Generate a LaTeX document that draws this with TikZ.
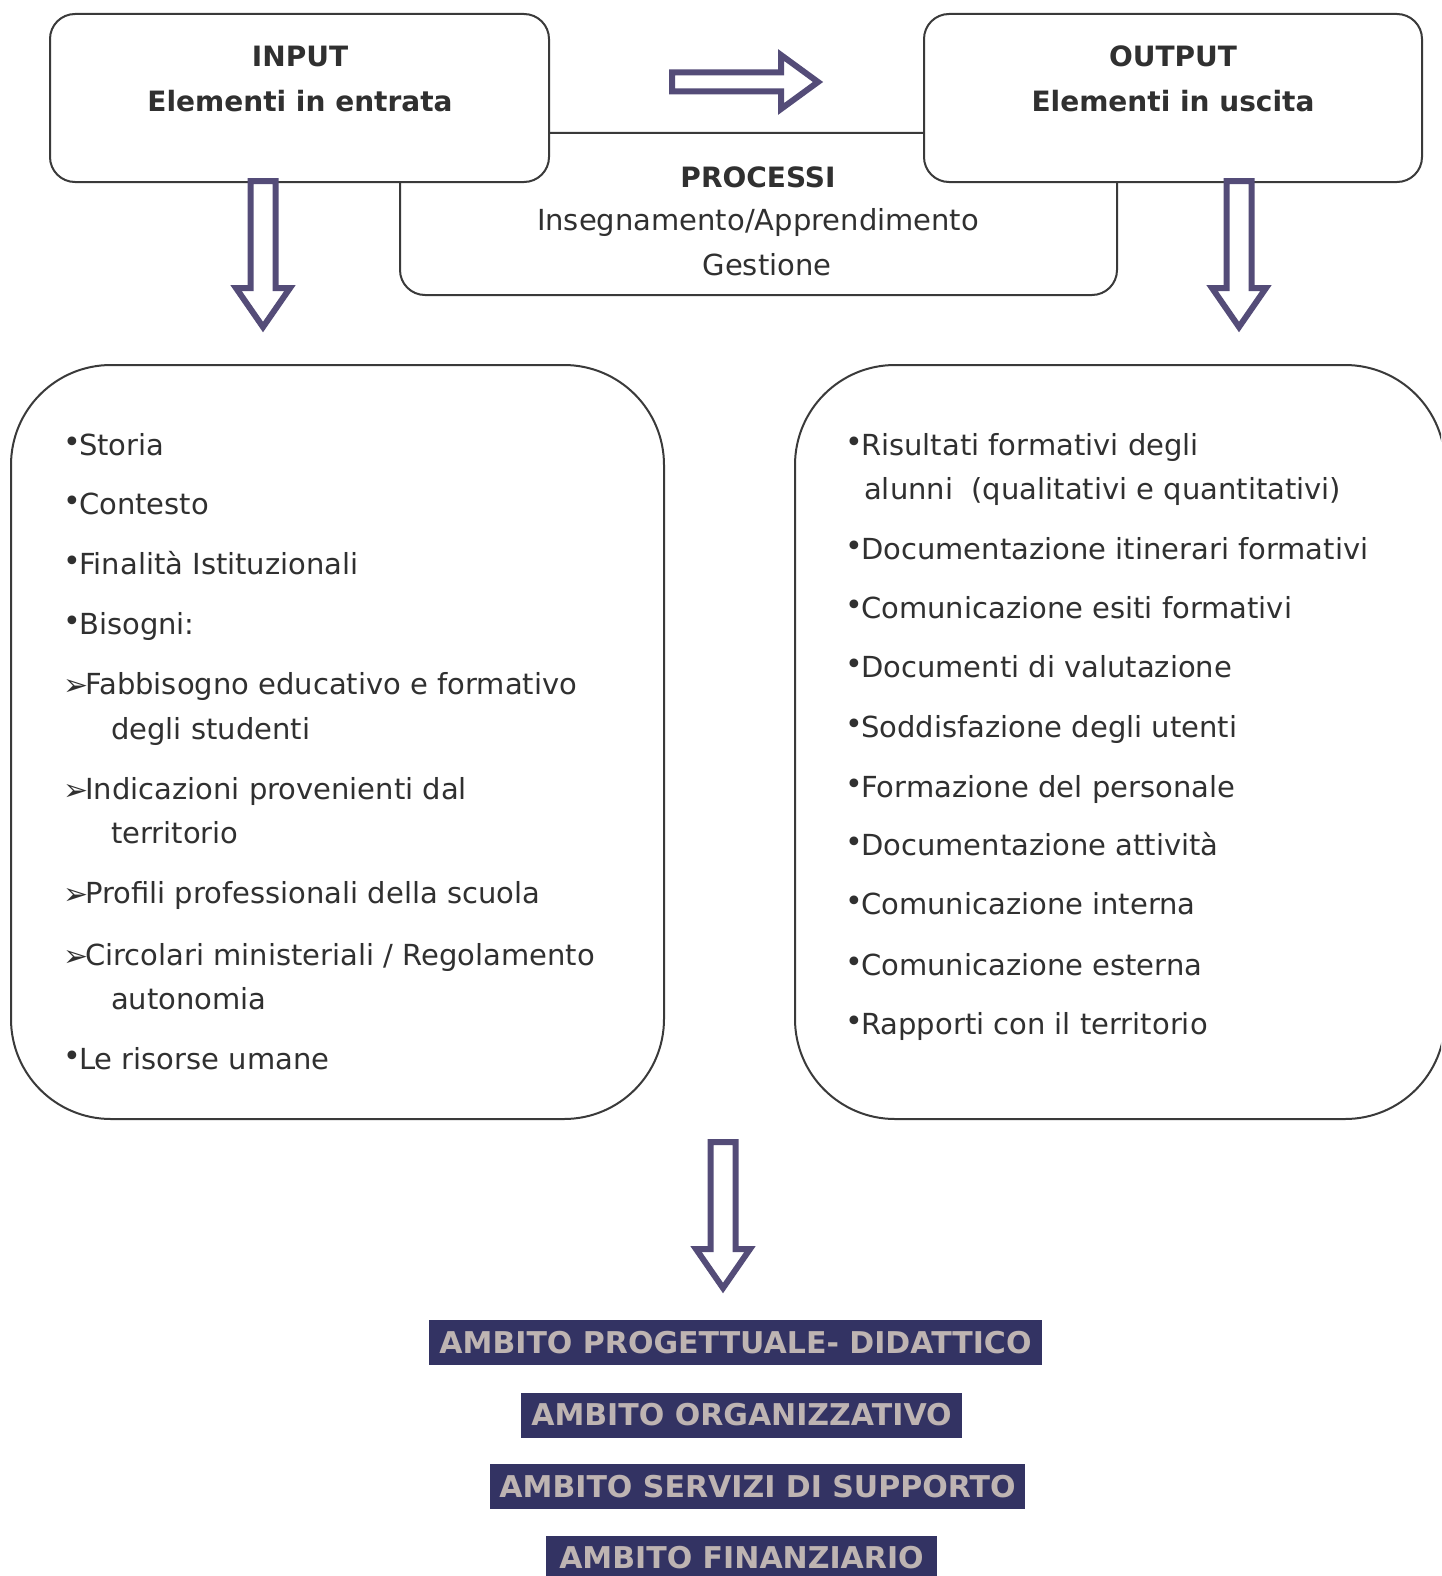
\documentclass[tikz,border=0pt]{standalone}
\usepackage{fontspec}
\setmainfont{DejaVu Sans}
\definecolor{linegrey}{HTML}{3A3A3A}
\definecolor{txtgrey}{HTML}{303030}
\definecolor{arrowpurple}{HTML}{544C78}
\definecolor{ambitofill}{HTML}{333363}
\definecolor{ambitotext}{HTML}{BEB4B2}
\newcommand{\bul}{\makebox[16pt][l]{\raisebox{2.5pt}{\fontsize{30}{30}\selectfont •}}}
\newcommand{\arr}{\makebox[22pt][l]{\raisebox{-1pt}{\fontsize{30}{30}\selectfont ➢}}}

\begin{document}
\begin{tikzpicture}[x=1pt,y=-1pt,
  box/.style={draw=linegrey,line width=2pt,fill=white},
  item/.style={anchor=base west,inner sep=0pt,text=txtgrey,font=\fontsize{29}{34}\selectfont},
  title/.style={anchor=base,inner sep=0pt,text=txtgrey,font=\fontsize{28}{34}\selectfont\bfseries},
  ambito/.style={fill=ambitofill,text=ambitotext,inner sep=0pt,minimum height=45pt,font=\fontsize{30}{36}\selectfont\bfseries},
  blockarrow/.style={draw=arrowpurple,line width=6pt,fill=white,line join=miter},
  downarr/.pic={\draw[blockarrow] (-12.5,0) -- (-12.5,107) -- (-27,107) -- (0,146) -- (27,107) -- (12.5,107) -- (12.5,0) -- cycle;},
  rightarr/.pic={\draw[blockarrow] (0,-9.5) -- (109,-9.5) -- (109,-27) -- (146,0) -- (109,27) -- (109,9.5) -- (0,9.5) -- cycle;}]
\useasboundingbox (0,0) rectangle (1441,1576);
\clip (0,0) rectangle (1441,1576);

\node[box,rounded corners=25pt,minimum width=717pt,minimum height=162pt] (processi) at (758.5,214) {};
\node[box,rounded corners=25pt,minimum width=499pt,minimum height=168pt] (input) at (299.5,98) {};
\node[box,rounded corners=25pt,minimum width=498pt,minimum height=168pt] (output) at (1173,98) {};
\node[box,rounded corners=100pt,minimum width=653pt,minimum height=754pt] (inlist) at (337.5,742) {};
\node[box,rounded corners=100pt,minimum width=650pt,minimum height=754pt] (outlist) at (1120,742) {};

\node[title] (inT) at (300,67) {INPUT};
\node[title] (inS) at (300,111.5) {Elementi in entrata};
\node[title] (outT) at (1173,67) {OUTPUT};
\node[title] (outS) at (1173,111.5) {Elementi in uscita};
\node[title] (procT) at (758,187) {PROCESSI};
\node[title,font=\fontsize{29}{34}\selectfont] (procA) at (758,230) {Insegnamento/Apprendimento};
\node[title,font=\fontsize{29}{34}\selectfont] (procB) at (767,275) {Gestione};

\coordinate (toparrow) at (672,82);
\coordinate (inarrow) at (263,181);
\coordinate (outarrow) at (1239,181);
\coordinate (ambarrow) at (723,1142);
\pic at (toparrow) {rightarr};
\pic at (inarrow) {downarr};
\pic at (outarrow) {downarr};
\pic at (ambarrow) {downarr};

\foreach \x/\y/\txt [count=\i] in {
  63/455/{\bul Storia},
  63/514/{\bul Contesto},
  63/574/{\bul Finalità Istituzionali},
  63/634/{\bul Bisogni:},
  63/694/{\arr Fabbisogno educativo e formativo},
  111/739/{degli studenti},
  63/799/{\arr Indicazioni provenienti dal},
  111/843/{territorio},
  63/903/{\arr Profili professionali della scuola},
  63/965/{\arr Circolari ministeriali / Regolamento},
  111/1009/{autonomia},
  63/1069/{\bul Le risorse umane}}
  \node[item] (in\i) at (\x,\y) {\txt};

\foreach \x/\y/\txt [count=\i] in {
  845/455/{\bul Risultati formativi degli},
  864/499/{alunni\ \ (qualitativi e quantitativi)},
  845/559/{\bul Documentazione itinerari formativi},
  845/618/{\bul Comunicazione esiti formativi},
  845/677/{\bul Documenti di valutazione},
  845/737/{\bul Soddisfazione degli utenti},
  845/797/{\bul Formazione del personale},
  845/855/{\bul Documentazione attività},
  845/914/{\bul Comunicazione interna},
  845/975/{\bul Comunicazione esterna},
  845/1034/{\bul Rapporti con il territorio}}
  \node[item] (out\i) at (\x,\y) {\txt};

\node[ambito,minimum width=613pt] (amb1) at (735.5,1342.5) {AMBITO PROGETTUALE- DIDATTICO};
\node[ambito,minimum width=441pt] (amb2) at (741.5,1415) {AMBITO ORGANIZZATIVO};
\node[ambito,minimum width=535pt] (amb3) at (757.5,1486.5) {AMBITO SERVIZI DI SUPPORTO};
\node[ambito,minimum width=391pt] (amb4) at (741.5,1558) {AMBITO FINANZIARIO};
\end{tikzpicture}
\end{document}
